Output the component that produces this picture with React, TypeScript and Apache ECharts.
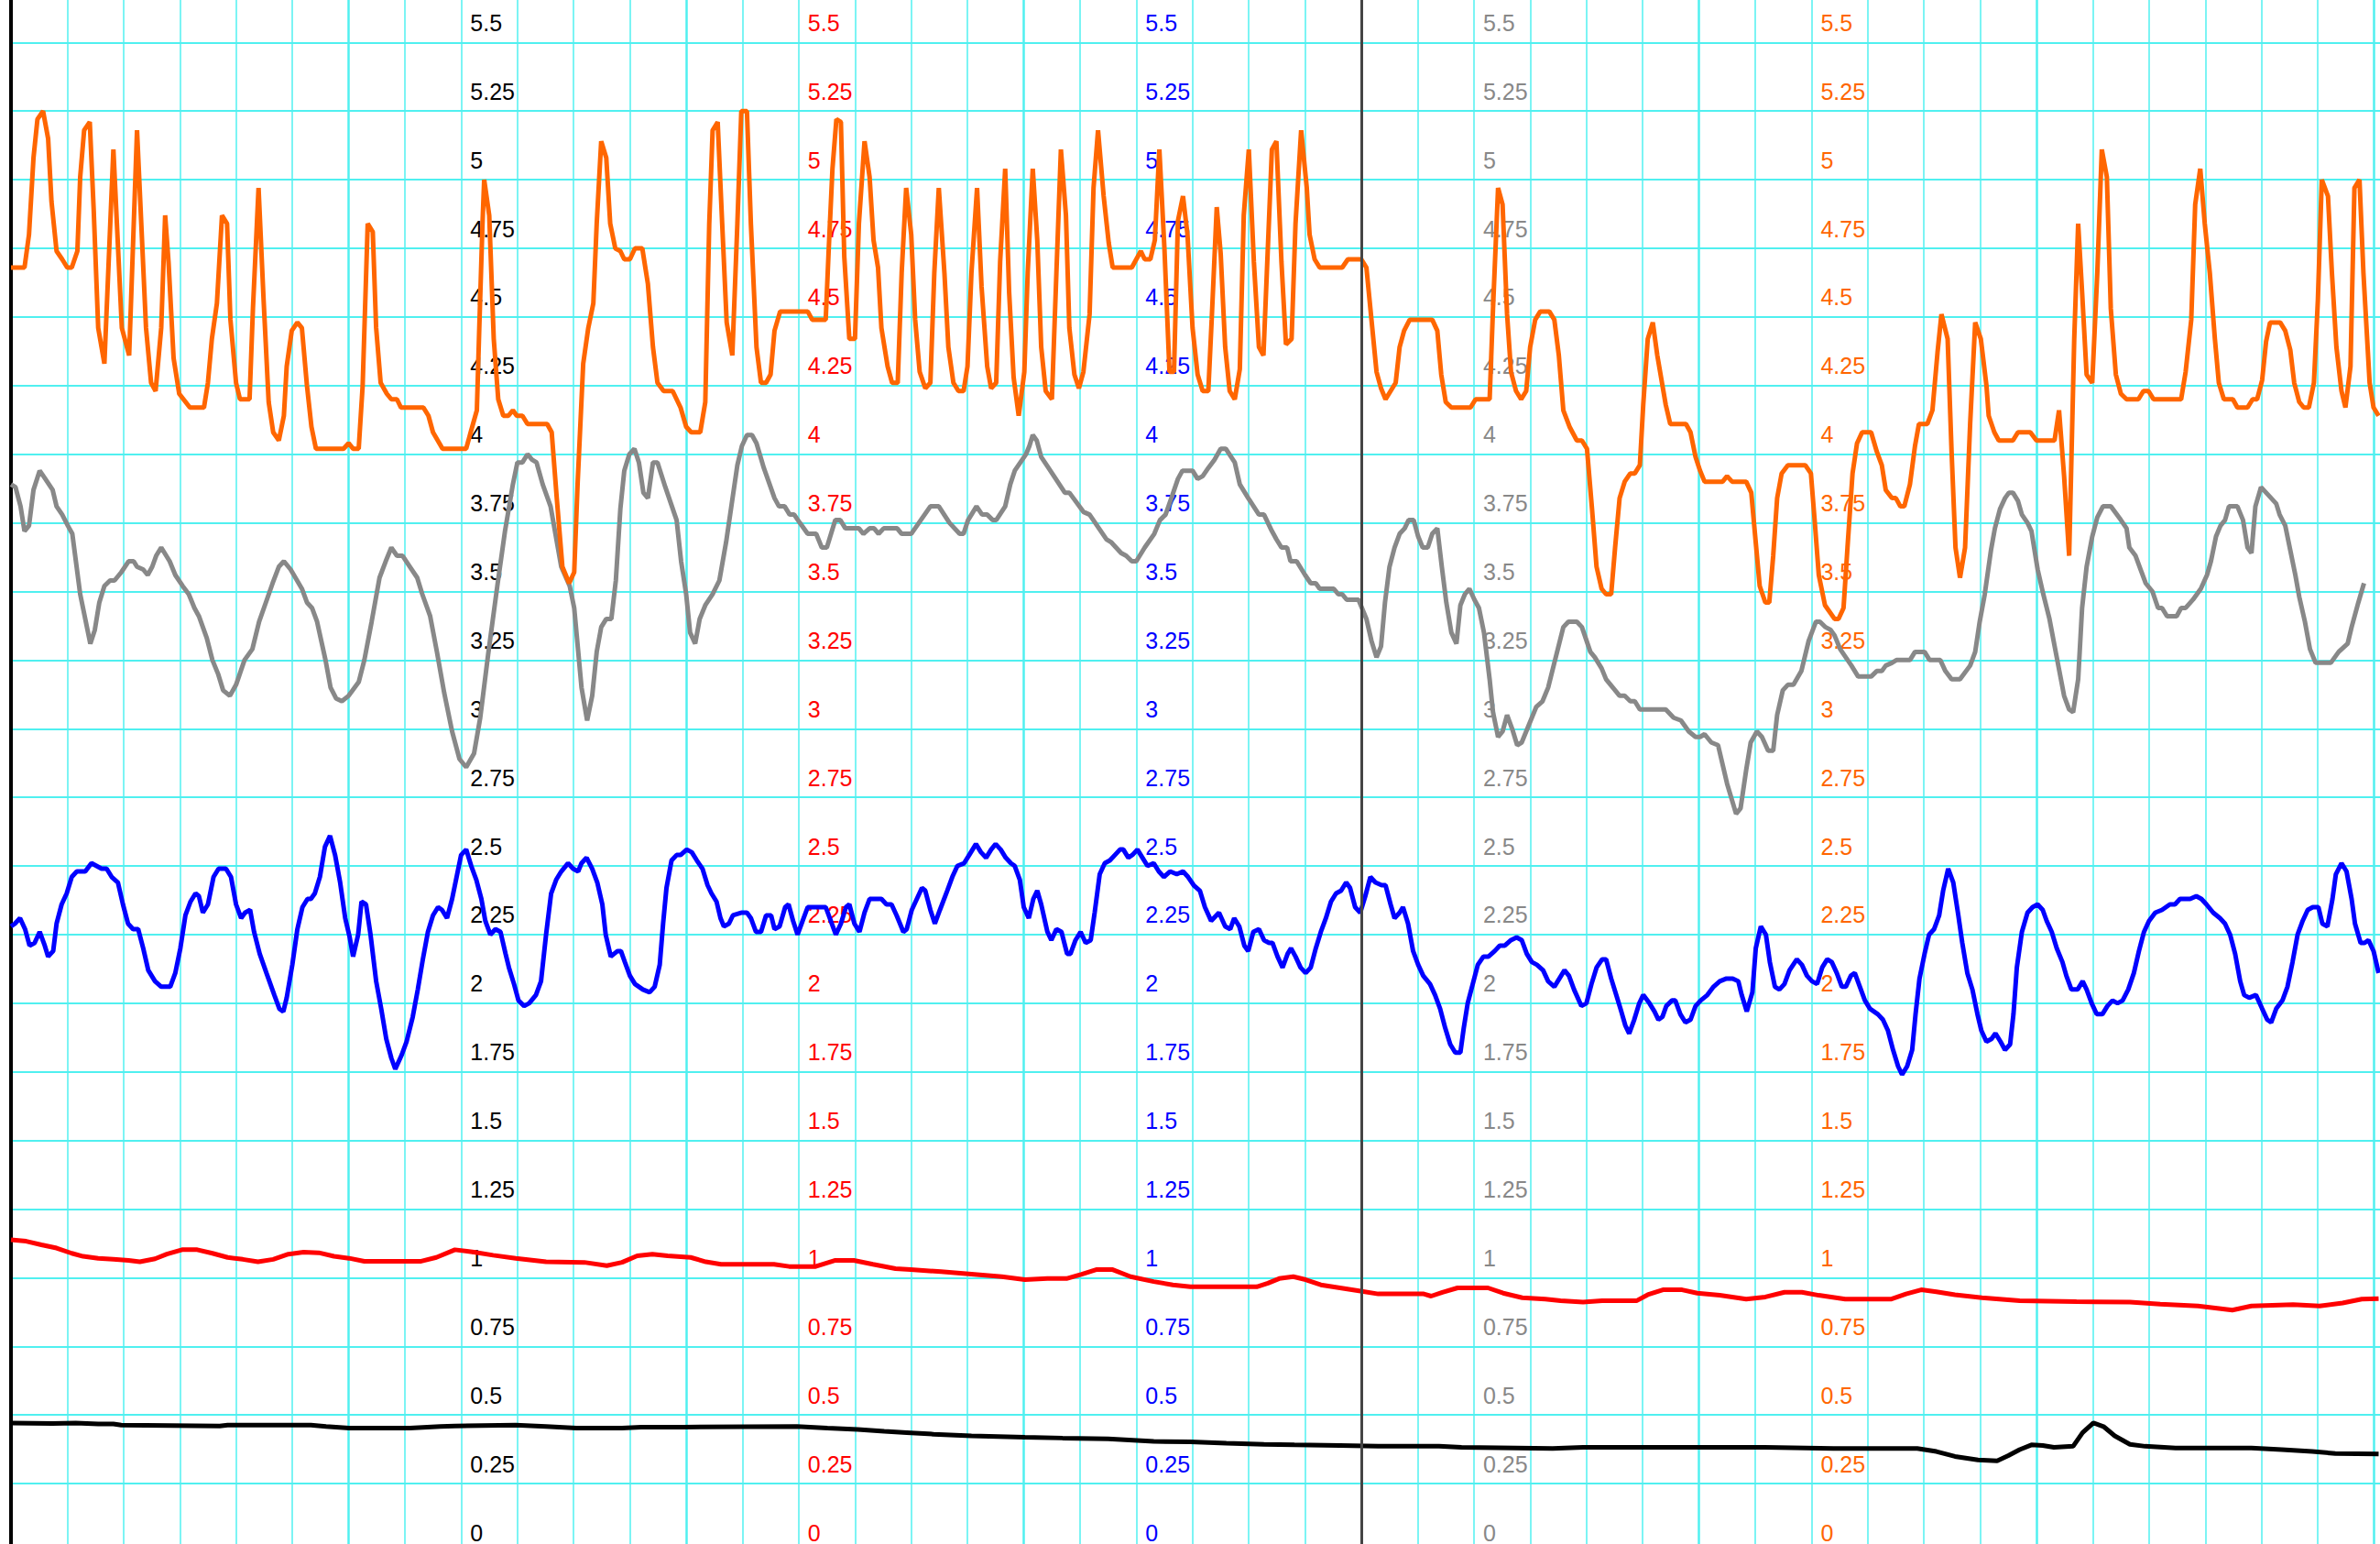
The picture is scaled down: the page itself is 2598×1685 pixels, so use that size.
import React, { useEffect, useRef } from "react";
import * as echarts from "echarts";

// ---- data: [x (grid cells), value] ----
const blackData: number[][] = [
  [0,0.471],[0.74,0.469],[1.15,0.471],[1.55,0.467],[1.82,0.467],[1.96,0.463],[3.71,0.46],[3.85,0.463],[5.33,0.463],[5.6,0.458],[6.01,0.452],[7.09,0.452],[7.63,0.458],[7.89,0.46],[8.97,0.463],[9.51,0.458],[10.05,0.452],[10.86,0.452],[11.2,0.456],[11.94,0.456],[13.97,0.458],[14.51,0.452],[15.05,0.447],[15.52,0.441],[15.92,0.436],[16.4,0.43],[17.07,0.424],[18.02,0.419],[18.69,0.416],[19.5,0.413],[20.31,0.404],[20.96,0.402],[21.6,0.397],[22.27,0.393],[22.81,0.391],[23.62,0.389],[24.3,0.386],[25.38,0.386],[25.78,0.382],[27.4,0.378],[27.94,0.382],[29.56,0.382],[31.18,0.382],[32.39,0.378],[33.88,0.378],[34.22,0.367],[34.55,0.349],[34.96,0.336],[35.3,0.333],[35.5,0.352],[35.7,0.374],[35.91,0.391],[36.11,0.389],[36.31,0.382],[36.65,0.386],[36.82,0.436],[37.01,0.471],[37.19,0.458],[37.39,0.424],[37.66,0.393],[37.93,0.386],[38.47,0.38],[39.15,0.38],[39.82,0.38],[40.36,0.374],[40.9,0.367],[41.31,0.36],[42.08,0.358]
];

const redData: number[][] = [
  [0,1.138],[0.27,1.133],[0.54,1.12],[0.81,1.108],[1.08,1.089],[1.28,1.078],[1.55,1.071],[1.82,1.067],[2.09,1.063],[2.29,1.058],[2.56,1.069],[2.77,1.086],[3.04,1.102],[3.31,1.102],[3.58,1.089],[3.85,1.074],[4.12,1.067],[4.39,1.058],[4.66,1.067],[4.93,1.086],[5.2,1.093],[5.47,1.091],[5.74,1.078],[6.01,1.071],[6.28,1.06],[7.29,1.06],[7.56,1.074],[7.89,1.102],[8.23,1.093],[8.57,1.082],[8.97,1.071],[9.51,1.058],[10.19,1.056],[10.59,1.044],[10.86,1.056],[11.13,1.08],[11.4,1.086],[11.67,1.08],[12.08,1.074],[12.35,1.058],[12.62,1.049],[13.56,1.049],[13.83,1.041],[14.3,1.041],[14.64,1.063],[14.98,1.063],[15.32,1.049],[15.72,1.033],[15.99,1.03],[16.53,1.022],[17.07,1.013],[17.61,1.004],[18.02,0.993],[18.42,0.997],[18.76,0.997],[19.03,1.013],[19.3,1.03],[19.57,1.03],[19.9,1.004],[20.31,0.986],[20.65,0.974],[20.96,0.967],[22.14,0.967],[22.34,0.98],[22.54,0.997],[22.79,1.004],[23.01,0.993],[23.28,0.974],[23.62,0.963],[23.96,0.952],[24.3,0.941],[25.11,0.941],[25.24,0.933],[25.44,0.947],[25.71,0.963],[26.25,0.963],[26.52,0.944],[26.86,0.927],[27.27,0.922],[27.54,0.916],[27.94,0.911],[28.28,0.916],[28.89,0.916],[29.09,0.938],[29.36,0.956],[29.7,0.956],[29.97,0.944],[30.37,0.936],[30.84,0.922],[31.18,0.93],[31.52,0.947],[31.83,0.947],[32.13,0.936],[32.6,0.922],[33.41,0.922],[33.68,0.941],[33.95,0.956],[34.22,0.949],[34.55,0.938],[35.03,0.927],[35.7,0.916],[36.71,0.913],[37.66,0.911],[38.2,0.904],[38.87,0.897],[39.21,0.889],[39.48,0.882],[39.82,0.897],[40.56,0.902],[41.03,0.897],[41.44,0.908],[41.78,0.922],[42.08,0.924]
];

const blueData: number[][] = [
  [0,2.28],[0.07,2.29],[0.16,2.31],[0.25,2.27],[0.33,2.21],[0.42,2.22],[0.51,2.26],[0.6,2.21],[0.66,2.17],[0.75,2.19],[0.81,2.29],[0.9,2.36],[0.99,2.40],[1.08,2.46],[1.17,2.48],[1.32,2.48],[1.43,2.51],[1.52,2.50],[1.61,2.49],[1.7,2.49],[1.79,2.46],[1.9,2.44],[1.99,2.36],[2.08,2.29],[2.17,2.27],[2.26,2.27],[2.35,2.20],[2.44,2.12],[2.56,2.08],[2.67,2.06],[2.83,2.06],[2.92,2.11],[3.01,2.20],[3.1,2.32],[3.19,2.37],[3.28,2.40],[3.34,2.39],[3.41,2.33],[3.5,2.36],[3.6,2.46],[3.69,2.49],[3.82,2.49],[3.91,2.46],[4.0,2.36],[4.09,2.31],[4.16,2.33],[4.25,2.34],[4.32,2.26],[4.42,2.18],[4.54,2.11],[4.68,2.03],[4.77,1.98],[4.84,1.97],[4.9,2.02],[5.0,2.14],[5.09,2.27],[5.18,2.35],[5.27,2.38],[5.33,2.38],[5.4,2.40],[5.49,2.46],[5.58,2.57],[5.67,2.61],[5.76,2.54],[5.85,2.44],[5.94,2.31],[6.02,2.24],[6.08,2.17],[6.17,2.25],[6.23,2.37],[6.31,2.36],[6.39,2.25],[6.49,2.08],[6.58,1.98],[6.67,1.87],[6.76,1.80],[6.83,1.76],[6.94,1.81],[7.03,1.86],[7.14,1.95],[7.23,2.05],[7.32,2.16],[7.41,2.26],[7.5,2.32],[7.59,2.35],[7.66,2.34],[7.75,2.31],[7.84,2.38],[7.93,2.47],[8.0,2.54],[8.09,2.56],[8.18,2.50],[8.27,2.45],[8.36,2.38],[8.43,2.30],[8.52,2.25],[8.61,2.27],[8.7,2.26],[8.79,2.18],[8.85,2.13],[8.94,2.07],[9.02,2.01],[9.12,1.99],[9.21,2.0],[9.33,2.03],[9.42,2.08],[9.51,2.25],[9.6,2.40],[9.69,2.45],[9.78,2.48],[9.9,2.51],[9.99,2.49],[10.08,2.48],[10.14,2.51],[10.23,2.53],[10.33,2.49],[10.42,2.44],[10.51,2.36],[10.57,2.25],[10.66,2.17],[10.78,2.19],[10.84,2.19],[10.91,2.15],[11.0,2.10],[11.09,2.07],[11.23,2.05],[11.35,2.04],[11.44,2.06],[11.53,2.14],[11.59,2.29],[11.65,2.42],[11.74,2.52],[11.83,2.54],[11.9,2.54],[12.01,2.56],[12.1,2.55],[12.19,2.52],[12.29,2.49],[12.38,2.43],[12.45,2.40],[12.54,2.37],[12.61,2.31],[12.67,2.28],[12.76,2.29],[12.83,2.32],[12.99,2.33],[13.08,2.33],[13.15,2.31],[13.24,2.26],[13.33,2.26],[13.42,2.32],[13.51,2.32],[13.57,2.27],[13.66,2.28],[13.76,2.35],[13.82,2.36],[13.9,2.30],[13.98,2.25],[14.07,2.30],[14.16,2.35],[14.48,2.35],[14.57,2.30],[14.66,2.25],[14.75,2.29],[14.84,2.35],[14.9,2.36],[14.99,2.29],[15.08,2.26],[15.17,2.33],[15.26,2.38],[15.47,2.38],[15.56,2.36],[15.65,2.36],[15.74,2.32],[15.86,2.26],[15.92,2.27],[16.01,2.34],[16.1,2.38],[16.19,2.42],[16.25,2.41],[16.34,2.34],[16.42,2.29],[16.51,2.34],[16.64,2.41],[16.73,2.46],[16.82,2.50],[16.94,2.51],[17.03,2.54],[17.15,2.58],[17.24,2.55],[17.33,2.53],[17.42,2.56],[17.5,2.58],[17.59,2.56],[17.68,2.53],[17.77,2.51],[17.84,2.50],[17.93,2.45],[18.0,2.35],[18.09,2.31],[18.17,2.38],[18.24,2.41],[18.31,2.36],[18.42,2.26],[18.49,2.23],[18.58,2.27],[18.67,2.26],[18.77,2.18],[18.83,2.18],[18.92,2.23],[19.01,2.26],[19.1,2.22],[19.19,2.23],[19.26,2.33],[19.35,2.47],[19.44,2.51],[19.53,2.52],[19.62,2.54],[19.71,2.56],[19.77,2.56],[19.86,2.53],[19.93,2.54],[20.02,2.56],[20.11,2.53],[20.2,2.50],[20.31,2.51],[20.4,2.48],[20.49,2.46],[20.6,2.48],[20.72,2.47],[20.83,2.48],[20.92,2.46],[21.02,2.43],[21.13,2.41],[21.22,2.35],[21.33,2.30],[21.47,2.33],[21.58,2.28],[21.67,2.27],[21.74,2.31],[21.83,2.28],[21.92,2.21],[21.99,2.19],[22.08,2.26],[22.18,2.27],[22.27,2.23],[22.36,2.22],[22.42,2.22],[22.51,2.17],[22.6,2.13],[22.69,2.18],[22.75,2.20],[22.83,2.17],[22.92,2.13],[23.01,2.11],[23.1,2.13],[23.19,2.20],[23.28,2.26],[23.37,2.31],[23.46,2.37],[23.55,2.40],[23.64,2.41],[23.73,2.44],[23.8,2.42],[23.89,2.35],[23.98,2.33],[24.07,2.39],[24.16,2.46],[24.25,2.44],[24.36,2.43],[24.43,2.43],[24.52,2.36],[24.59,2.31],[24.68,2.33],[24.74,2.35],[24.83,2.29],[24.92,2.19],[25.01,2.14],[25.1,2.10],[25.22,2.07],[25.31,2.03],[25.4,1.98],[25.49,1.91],[25.58,1.85],[25.67,1.82],[25.76,1.82],[25.82,1.91],[25.89,2.0],[25.98,2.07],[26.07,2.14],[26.17,2.17],[26.26,2.17],[26.37,2.19],[26.46,2.21],[26.55,2.21],[26.66,2.23],[26.76,2.24],[26.85,2.23],[26.94,2.18],[27.03,2.15],[27.12,2.14],[27.23,2.12],[27.32,2.08],[27.43,2.06],[27.52,2.09],[27.61,2.12],[27.69,2.10],[27.78,2.05],[27.91,1.99],[28.0,2.0],[28.09,2.07],[28.18,2.13],[28.28,2.16],[28.35,2.16],[28.44,2.09],[28.53,2.03],[28.62,1.97],[28.69,1.92],[28.76,1.89],[28.85,1.94],[28.94,2.0],[29.01,2.03],[29.12,2.0],[29.21,1.97],[29.28,1.94],[29.35,1.95],[29.42,1.99],[29.52,2.01],[29.58,2.01],[29.67,1.96],[29.76,1.93],[29.85,1.94],[29.94,1.99],[30.03,2.01],[30.15,2.03],[30.26,2.06],[30.37,2.08],[30.49,2.09],[30.6,2.09],[30.7,2.08],[30.76,2.03],[30.85,1.97],[30.95,2.04],[31.01,2.20],[31.1,2.28],[31.19,2.25],[31.26,2.15],[31.35,2.06],[31.43,2.05],[31.52,2.07],[31.61,2.12],[31.74,2.16],[31.83,2.14],[31.92,2.10],[32.01,2.08],[32.1,2.07],[32.19,2.13],[32.28,2.16],[32.36,2.15],[32.45,2.11],[32.54,2.06],[32.61,2.06],[32.7,2.10],[32.77,2.11],[32.86,2.06],[32.95,2.01],[33.04,1.98],[33.18,1.96],[33.27,1.94],[33.36,1.90],[33.45,1.83],[33.54,1.77],[33.61,1.74],[33.7,1.77],[33.79,1.83],[33.85,1.96],[33.92,2.09],[34.01,2.18],[34.09,2.25],[34.18,2.27],[34.27,2.32],[34.34,2.41],[34.43,2.49],[34.52,2.44],[34.61,2.32],[34.68,2.22],[34.77,2.11],[34.86,2.05],[34.95,1.96],[35.02,1.90],[35.11,1.86],[35.2,1.87],[35.27,1.89],[35.36,1.86],[35.44,1.83],[35.53,1.85],[35.59,1.96],[35.65,2.13],[35.74,2.26],[35.84,2.33],[35.93,2.35],[36.02,2.36],[36.11,2.34],[36.18,2.30],[36.27,2.26],[36.36,2.20],[36.46,2.15],[36.53,2.10],[36.62,2.05],[36.73,2.05],[36.82,2.08],[36.89,2.05],[36.98,2.0],[37.07,1.96],[37.17,1.96],[37.26,1.99],[37.35,2.01],[37.44,2.0],[37.53,2.01],[37.63,2.05],[37.73,2.11],[37.82,2.19],[37.91,2.26],[38.0,2.30],[38.11,2.33],[38.23,2.34],[38.37,2.36],[38.46,2.36],[38.55,2.38],[38.73,2.38],[38.84,2.39],[38.93,2.38],[39.02,2.36],[39.14,2.33],[39.26,2.31],[39.35,2.29],[39.44,2.25],[39.53,2.18],[39.62,2.08],[39.69,2.03],[39.78,2.02],[39.9,2.03],[40.01,1.98],[40.1,1.94],[40.17,1.93],[40.26,1.98],[40.37,2.01],[40.46,2.06],[40.55,2.15],[40.64,2.25],[40.73,2.30],[40.82,2.34],[40.91,2.35],[41.01,2.35],[41.08,2.29],[41.17,2.28],[41.26,2.38],[41.32,2.47],[41.42,2.51],[41.51,2.48],[41.6,2.38],[41.66,2.29],[41.76,2.22],[41.83,2.22],[41.9,2.23],[41.99,2.19],[42.08,2.11]
];

const grayData: number[][] = [
  [0,3.89],[0.08,3.88],[0.17,3.81],[0.24,3.72],[0.32,3.74],[0.4,3.87],[0.51,3.94],[0.61,3.91],[0.74,3.87],[0.81,3.81],[0.91,3.78],[1.01,3.74],[1.09,3.71],[1.23,3.49],[1.41,3.31],[1.49,3.36],[1.57,3.46],[1.66,3.52],[1.76,3.54],[1.84,3.54],[1.96,3.57],[2.09,3.61],[2.18,3.61],[2.24,3.59],[2.35,3.58],[2.43,3.56],[2.51,3.59],[2.58,3.63],[2.67,3.66],[2.82,3.61],[2.92,3.56],[3.05,3.52],[3.16,3.49],[3.26,3.44],[3.34,3.41],[3.48,3.33],[3.58,3.25],[3.68,3.2],[3.77,3.14],[3.89,3.12],[4.0,3.16],[4.15,3.25],[4.29,3.29],[4.41,3.39],[4.53,3.46],[4.65,3.53],[4.76,3.59],[4.85,3.61],[4.97,3.58],[5.17,3.51],[5.26,3.46],[5.35,3.44],[5.44,3.39],[5.59,3.25],[5.68,3.15],[5.78,3.11],[5.88,3.10],[6.0,3.12],[6.18,3.17],[6.28,3.25],[6.41,3.39],[6.55,3.55],[6.66,3.61],[6.76,3.66],[6.86,3.63],[6.96,3.63],[7.09,3.59],[7.22,3.55],[7.31,3.49],[7.45,3.41],[7.57,3.28],[7.7,3.13],[7.84,2.99],[7.97,2.89],[8.09,2.86],[8.23,2.91],[8.34,3.04],[8.48,3.27],[8.65,3.53],[8.78,3.72],[8.92,3.89],[9.0,3.97],[9.09,3.97],[9.18,4.0],[9.26,3.98],[9.34,3.97],[9.45,3.89],[9.59,3.81],[9.78,3.59],[9.93,3.52],[10.01,3.44],[10.14,3.15],[10.24,3.03],[10.33,3.12],[10.41,3.28],[10.49,3.37],[10.58,3.40],[10.67,3.40],[10.75,3.54],[10.83,3.80],[10.9,3.94],[10.99,4.0],[11.08,4.02],[11.16,3.97],[11.24,3.86],[11.32,3.84],[11.41,3.97],[11.49,3.97],[11.63,3.88],[11.83,3.76],[11.91,3.61],[12.0,3.49],[12.07,3.35],[12.16,3.31],[12.24,3.40],[12.34,3.45],[12.47,3.49],[12.59,3.54],[12.71,3.68],[12.81,3.82],[12.91,3.96],[12.99,4.03],[13.08,4.07],[13.17,4.07],[13.25,4.04],[13.38,3.95],[13.57,3.84],[13.65,3.81],[13.75,3.81],[13.84,3.78],[13.92,3.78],[14.02,3.75],[14.16,3.71],[14.31,3.71],[14.41,3.66],[14.5,3.66],[14.65,3.76],[14.74,3.76],[14.83,3.73],[15.07,3.73],[15.15,3.71],[15.26,3.73],[15.34,3.73],[15.42,3.71],[15.51,3.73],[15.75,3.73],[15.83,3.71],[16.0,3.71],[16.17,3.76],[16.34,3.81],[16.49,3.81],[16.68,3.75],[16.86,3.71],[16.93,3.71],[17.01,3.76],[17.16,3.81],[17.26,3.78],[17.35,3.78],[17.45,3.76],[17.51,3.76],[17.67,3.81],[17.76,3.89],[17.84,3.94],[18.04,4.0],[18.1,4.03],[18.16,4.07],[18.23,4.05],[18.31,3.99],[18.44,3.95],[18.73,3.86],[18.81,3.86],[19.06,3.79],[19.17,3.78],[19.47,3.69],[19.55,3.68],[19.73,3.64],[19.82,3.63],[19.92,3.61],[20.0,3.61],[20.15,3.66],[20.32,3.71],[20.42,3.76],[20.52,3.78],[20.64,3.85],[20.74,3.91],[20.82,3.94],[21.0,3.94],[21.09,3.91],[21.18,3.92],[21.28,3.95],[21.39,3.98],[21.5,4.02],[21.59,4.02],[21.75,3.97],[21.84,3.89],[21.99,3.84],[22.18,3.78],[22.27,3.78],[22.41,3.72],[22.49,3.69],[22.58,3.66],[22.68,3.66],[22.74,3.61],[22.85,3.61],[23.0,3.56],[23.1,3.53],[23.19,3.53],[23.26,3.51],[23.51,3.51],[23.59,3.49],[23.66,3.49],[23.74,3.47],[23.95,3.47],[24.09,3.40],[24.18,3.32],[24.27,3.26],[24.35,3.30],[24.42,3.46],[24.5,3.59],[24.59,3.66],[24.68,3.71],[24.77,3.73],[24.84,3.76],[24.93,3.76],[25.01,3.70],[25.09,3.66],[25.18,3.66],[25.26,3.71],[25.35,3.73],[25.43,3.59],[25.51,3.46],[25.6,3.35],[25.69,3.31],[25.76,3.45],[25.84,3.49],[25.92,3.51],[26.01,3.47],[26.09,3.44],[26.18,3.35],[26.28,3.18],[26.34,3.06],[26.43,2.97],[26.51,2.99],[26.59,3.05],[26.68,3.0],[26.77,2.94],[26.85,2.95],[26.95,3.0],[27.11,3.08],[27.22,3.10],[27.32,3.15],[27.43,3.24],[27.59,3.37],[27.68,3.39],[27.83,3.39],[27.92,3.37],[28.07,3.28],[28.15,3.26],[28.27,3.22],[28.35,3.18],[28.47,3.15],[28.59,3.12],[28.68,3.12],[28.78,3.10],[28.86,3.10],[28.95,3.07],[29.41,3.07],[29.55,3.04],[29.68,3.03],[29.82,2.99],[29.94,2.97],[30.02,2.97],[30.1,2.98],[30.22,2.95],[30.34,2.94],[30.5,2.80],[30.66,2.69],[30.74,2.71],[30.84,2.85],[30.92,2.95],[31.03,2.99],[31.12,2.97],[31.23,2.92],[31.32,2.92],[31.39,3.05],[31.49,3.14],[31.58,3.16],[31.68,3.16],[31.82,3.21],[31.95,3.32],[32.08,3.39],[32.15,3.39],[32.25,3.37],[32.34,3.36],[32.41,3.34],[32.51,3.29],[32.71,3.23],[32.83,3.19],[33.06,3.19],[33.16,3.21],[33.25,3.21],[33.32,3.23],[33.43,3.24],[33.51,3.25],[33.75,3.25],[33.84,3.28],[34.01,3.28],[34.1,3.25],[34.29,3.25],[34.38,3.21],[34.49,3.18],[34.64,3.18],[34.82,3.23],[34.91,3.28],[34.99,3.39],[35.08,3.49],[35.19,3.65],[35.26,3.73],[35.35,3.80],[35.44,3.84],[35.51,3.86],[35.58,3.86],[35.67,3.83],[35.74,3.78],[35.84,3.75],[35.91,3.72],[36.02,3.58],[36.12,3.49],[36.23,3.40],[36.35,3.27],[36.49,3.12],[36.58,3.07],[36.65,3.06],[36.74,3.18],[36.81,3.44],[36.89,3.59],[36.99,3.70],[37.08,3.77],[37.18,3.81],[37.32,3.81],[37.5,3.76],[37.6,3.73],[37.65,3.66],[37.76,3.63],[37.85,3.58],[37.94,3.53],[38.06,3.50],[38.16,3.44],[38.23,3.44],[38.32,3.41],[38.49,3.41],[38.57,3.44],[38.65,3.44],[38.78,3.47],[38.92,3.51],[39.03,3.56],[39.1,3.61],[39.19,3.70],[39.27,3.74],[39.35,3.76],[39.42,3.81],[39.57,3.81],[39.67,3.76],[39.75,3.66],[39.82,3.64],[39.89,3.81],[39.99,3.88],[40.08,3.86],[40.26,3.82],[40.32,3.78],[40.42,3.74],[40.51,3.65],[40.6,3.56],[40.67,3.48],[40.77,3.39],[40.86,3.29],[40.96,3.24],[41.23,3.24],[41.37,3.28],[41.53,3.31],[41.6,3.37],[41.72,3.46],[41.82,3.53]
];

const orangeData: number[][] = [
  [0,4.68],[0.24,4.68],[0.32,4.80],[0.4,5.08],[0.47,5.22],[0.57,5.25],[0.66,5.15],[0.72,4.92],[0.81,4.74],[0.91,4.71],[1.0,4.68],[1.08,4.68],[1.18,4.74],[1.23,5.01],[1.3,5.18],[1.4,5.21],[1.47,4.89],[1.55,4.46],[1.66,4.33],[1.82,5.11],[1.97,4.46],[2.1,4.36],[2.24,5.18],[2.4,4.46],[2.49,4.26],[2.57,4.23],[2.67,4.46],[2.74,4.87],[2.8,4.70],[2.89,4.35],[2.99,4.22],[3.18,4.17],[3.43,4.17],[3.5,4.26],[3.57,4.42],[3.66,4.55],[3.75,4.87],[3.84,4.84],[3.9,4.49],[4.0,4.26],[4.07,4.20],[4.24,4.20],[4.3,4.53],[4.4,4.97],[4.49,4.56],[4.58,4.19],[4.66,4.08],[4.76,4.05],[4.85,4.14],[4.9,4.32],[4.99,4.45],[5.09,4.48],[5.17,4.46],[5.26,4.25],[5.34,4.10],[5.42,4.02],[5.91,4.02],[6.0,4.04],[6.08,4.02],[6.18,4.02],[6.25,4.25],[6.34,4.84],[6.43,4.81],[6.49,4.46],[6.57,4.26],[6.68,4.22],[6.76,4.20],[6.86,4.20],[6.93,4.17],[7.33,4.17],[7.42,4.14],[7.5,4.08],[7.67,4.02],[8.09,4.02],[8.17,4.08],[8.28,4.16],[8.32,4.44],[8.38,4.84],[8.41,5.0],[8.5,4.87],[8.58,4.42],[8.66,4.20],[8.75,4.14],[8.84,4.14],[8.92,4.16],[8.99,4.14],[9.09,4.14],[9.18,4.11],[9.53,4.11],[9.61,4.08],[9.7,3.84],[9.8,3.59],[9.92,3.53],[10.01,3.57],[10.07,3.89],[10.17,4.33],[10.26,4.46],[10.35,4.55],[10.41,4.84],[10.49,5.14],[10.58,5.08],[10.65,4.84],[10.74,4.75],[10.83,4.74],[10.9,4.71],[11.0,4.71],[11.09,4.75],[11.22,4.75],[11.32,4.62],[11.41,4.39],[11.49,4.26],[11.6,4.23],[11.76,4.23],[11.9,4.17],[12.0,4.10],[12.09,4.08],[12.25,4.08],[12.34,4.19],[12.41,4.84],[12.47,5.18],[12.56,5.21],[12.64,4.84],[12.72,4.48],[12.82,4.36],[12.91,4.84],[12.98,5.25],[13.08,5.25],[13.15,4.84],[13.25,4.39],[13.33,4.26],[13.42,4.26],[13.5,4.29],[13.57,4.45],[13.67,4.52],[14.16,4.52],[14.24,4.49],[14.48,4.49],[14.53,4.73],[14.6,5.04],[14.67,5.22],[14.75,5.21],[14.81,4.72],[14.9,4.42],[15.0,4.42],[15.07,4.84],[15.17,5.14],[15.26,5.01],[15.33,4.78],[15.41,4.68],[15.47,4.46],[15.58,4.32],[15.66,4.26],[15.76,4.26],[15.83,4.66],[15.91,4.97],[16.0,4.80],[16.07,4.49],[16.15,4.30],[16.25,4.24],[16.34,4.26],[16.41,4.66],[16.49,4.97],[16.59,4.66],[16.66,4.39],[16.75,4.26],[16.84,4.23],[16.93,4.23],[17.0,4.32],[17.07,4.66],[17.17,4.97],[17.25,4.61],[17.35,4.32],[17.42,4.24],[17.51,4.26],[17.58,4.70],[17.67,5.04],[17.74,4.59],[17.82,4.28],[17.91,4.14],[18.01,4.30],[18.07,4.66],[18.16,5.04],[18.24,4.78],[18.31,4.39],[18.39,4.23],[18.5,4.20],[18.58,4.66],[18.66,5.11],[18.75,4.87],[18.81,4.46],[18.9,4.29],[18.98,4.24],[19.06,4.30],[19.17,4.51],[19.24,4.97],[19.32,5.18],[19.42,4.94],[19.51,4.77],[19.58,4.68],[19.92,4.68],[20.0,4.71],[20.08,4.74],[20.15,4.71],[20.25,4.71],[20.33,4.78],[20.41,5.11],[20.5,4.75],[20.59,4.30],[20.67,4.30],[20.74,4.85],[20.83,4.94],[20.91,4.80],[21.0,4.46],[21.09,4.29],[21.18,4.23],[21.28,4.23],[21.34,4.49],[21.43,4.90],[21.5,4.73],[21.58,4.39],[21.66,4.23],[21.75,4.20],[21.84,4.31],[21.91,4.87],[22.0,5.11],[22.09,4.70],[22.18,4.39],[22.26,4.36],[22.32,4.66],[22.41,5.11],[22.49,5.14],[22.58,4.70],[22.66,4.40],[22.76,4.42],[22.83,4.84],[22.93,5.18],[23.03,4.97],[23.08,4.80],[23.17,4.71],[23.26,4.68],[23.66,4.68],[23.76,4.71],[24.0,4.71],[24.09,4.68],[24.18,4.49],[24.27,4.30],[24.35,4.24],[24.43,4.20],[24.52,4.23],[24.61,4.26],[24.68,4.39],[24.76,4.45],[24.86,4.49],[25.26,4.49],[25.35,4.45],[25.42,4.29],[25.5,4.19],[25.6,4.17],[25.94,4.17],[26.03,4.20],[26.28,4.20],[26.34,4.53],[26.43,4.97],[26.51,4.91],[26.59,4.51],[26.66,4.30],[26.75,4.23],[26.84,4.20],[26.93,4.23],[27.0,4.39],[27.09,4.49],[27.18,4.52],[27.34,4.52],[27.43,4.49],[27.51,4.36],[27.59,4.16],[27.7,4.10],[27.83,4.05],[27.92,4.05],[28.01,4.02],[28.1,3.80],[28.18,3.59],[28.27,3.51],[28.35,3.49],[28.44,3.49],[28.51,3.66],[28.59,3.84],[28.68,3.90],[28.78,3.93],[28.86,3.93],[28.95,3.96],[29.01,4.18],[29.09,4.42],[29.18,4.48],[29.26,4.36],[29.41,4.18],[29.49,4.11],[29.77,4.11],[29.85,4.08],[29.94,3.99],[30.02,3.94],[30.1,3.90],[30.42,3.90],[30.5,3.92],[30.59,3.90],[30.84,3.90],[30.93,3.86],[31.0,3.70],[31.08,3.52],[31.18,3.46],[31.25,3.46],[31.32,3.63],[31.39,3.84],[31.47,3.93],[31.58,3.96],[31.89,3.96],[31.99,3.93],[32.06,3.75],[32.13,3.56],[32.24,3.45],[32.41,3.40],[32.48,3.40],[32.57,3.44],[32.64,3.66],[32.73,3.93],[32.81,4.04],[32.9,4.08],[33.06,4.08],[33.16,4.01],[33.25,3.96],[33.32,3.87],[33.43,3.84],[33.5,3.84],[33.58,3.81],[33.65,3.81],[33.75,3.89],[33.84,4.03],[33.91,4.11],[34.06,4.11],[34.15,4.16],[34.24,4.37],[34.31,4.51],[34.42,4.42],[34.49,4.01],[34.56,3.66],[34.64,3.55],[34.73,3.66],[34.82,4.11],[34.91,4.48],[35.01,4.42],[35.11,4.25],[35.15,4.14],[35.25,4.08],[35.33,4.05],[35.58,4.05],[35.67,4.08],[35.89,4.08],[36.0,4.05],[36.32,4.05],[36.4,4.16],[36.49,3.92],[36.58,3.63],[36.67,4.42],[36.74,4.84],[36.81,4.59],[36.89,4.29],[36.99,4.26],[37.08,4.66],[37.16,5.11],[37.25,5.01],[37.32,4.53],[37.41,4.29],[37.5,4.22],[37.6,4.20],[37.81,4.20],[37.9,4.23],[37.99,4.23],[38.08,4.20],[38.57,4.20],[38.65,4.30],[38.75,4.49],[38.82,4.91],[38.91,5.04],[38.99,4.84],[39.08,4.66],[39.17,4.42],[39.24,4.26],[39.33,4.20],[39.49,4.20],[39.57,4.17],[39.75,4.17],[39.84,4.20],[39.92,4.20],[40.01,4.27],[40.08,4.41],[40.15,4.48],[40.33,4.48],[40.42,4.45],[40.51,4.38],[40.58,4.26],[40.67,4.19],[40.75,4.17],[40.84,4.17],[40.93,4.26],[41.0,4.56],[41.07,5.0],[41.18,4.94],[41.25,4.66],[41.33,4.39],[41.42,4.23],[41.49,4.17],[41.58,4.32],[41.65,4.97],[41.74,5.0],[41.81,4.66],[41.92,4.26],[41.99,4.17],[42.08,4.14]
];

const cursorX = [24];
const labelColumns = [8, 14, 20, 26, 32];

const W = 2653;
const TOP_HIDE = 10;
const H = 1694 + TOP_HIDE;
const GRID_LEFT = 12;
const X_MAX = 43;
const Y_MAX = 5.688;
const CYAN = "#50f0f0";

const seriesDefs = [
  { name: "black", color: "#000000", label: "#000000", data: blackData },
  { name: "red", color: "#ff0000", label: "#ff0000", data: redData },
  { name: "blue", color: "#0000ff", label: "#0000ff", data: blueData },
  { name: "gray", color: "#888888", label: "#888888", data: grayData },
  { name: "orange", color: "#ff6600", label: "#ff6600", data: orangeData },
];

export default function App() {
  const ref = useRef<HTMLDivElement>(null);
  useEffect(() => {
    if (!ref.current) return;
    const chart = echarts.init(ref.current, undefined, { renderer: "svg" });
    const cellPx = (W - GRID_LEFT) / X_MAX;
    const baseY = {
      type: "value", min: 0, max: Y_MAX, interval: 0.25, position: "left",
      axisLine: { show: true, lineStyle: { color: "#000", width: 4 } },
      axisTick: { show: false }, axisLabel: { show: false },
      splitLine: { show: true, lineStyle: { color: CYAN, width: 2 } },
    };
    const labelAxes = seriesDefs.map((s, i) => ({
      type: "value", min: 0, max: Y_MAX, interval: 0.25, position: "left",
      offset: -labelColumns[i] * cellPx,
      axisLine: { show: false }, axisTick: { show: false }, splitLine: { show: false },
      axisLabel: {
        show: true, inside: true, showMaxLabel: false, margin: 10,
        color: s.label, fontSize: 25, fontFamily: "Liberation Sans, Arial, sans-serif",
        verticalAlign: "bottom", padding: [0, 0, 9, 0],
      },
    }));
    chart.setOption({
      animation: false,
      grid: { left: GRID_LEFT, right: 0, top: 0, bottom: 0, containLabel: false },
      xAxis: {
        type: "value", min: 0, max: X_MAX, interval: 6,
        axisLine: { show: false }, axisTick: { show: false }, axisLabel: { show: false },
        splitLine: { show: true, lineStyle: { color: CYAN, width: 2.5 } },
        minorTick: { show: false, splitNumber: 6 },
        minorSplitLine: { show: true, lineStyle: { color: CYAN, width: 1.5 } },
      },
      yAxis: [baseY, ...labelAxes],
      series: seriesDefs.map((s, i) => ({
        name: s.name, type: "line", yAxisIndex: i + 1, data: s.data,
        symbol: "none", smooth: false, silent: true,
        lineStyle: { color: s.color, width: 5 },
        markLine: i === 0 ? {
          silent: true, symbol: ["none", "none"], label: { show: false },
          lineStyle: { color: "#444444", width: 3, type: "solid" },
          data: cursorX.map((x) => ({ xAxis: x })),
        } : undefined,
      })),
    });
    return () => chart.dispose();
  }, []);
  return <div ref={ref} style={{ position: "fixed", left: 0, top: -TOP_HIDE, width: W, height: H, background: "#fff" }} />;
}
